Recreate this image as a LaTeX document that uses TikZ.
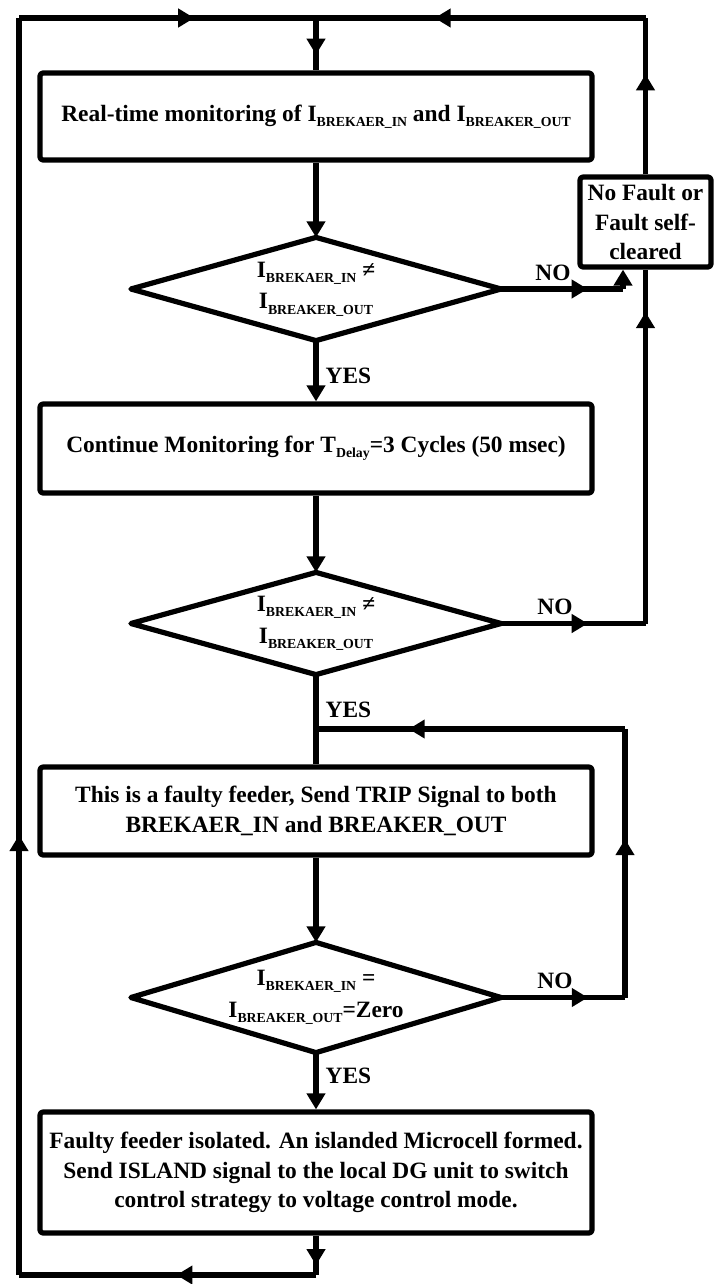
\documentclass[tikz,border=0pt]{standalone}
\usepackage{fontspec}
\setmainfont{Liberation Serif}
\usetikzlibrary{arrows.meta,decorations.markings}
\newcommand\sbs[1]{\raisebox{-0.22em}{\fontsize{6.9}{8}\selectfont #1}}
\begin{document}
\begin{tikzpicture}[x=0.5pt,y=-0.5pt,
  line width=2.6pt, line join=round,
  font=\fontsize{11.7}{14.8}\selectfont\bfseries,
  tipend/.style={-{Triangle[length=8pt,width=9pt]}},
  midarrow/.style={postaction={decorate,decoration={markings,
      mark=at position #1 with {\arrow{Triangle[length=8pt,width=9pt]}}}}},
  box/.style={draw, rounded corners=1.5pt, minimum width=276pt, align=center, inner sep=2pt},
  nfbox/.style={draw, rounded corners=1.5pt, minimum width=65.5pt, minimum height=45pt, align=center, inner sep=1pt},
  dia/.style={minimum width=182.5pt, inner sep=0pt, align=center},
  lab/.style={inner sep=0pt}
]
\useasboundingbox (0,0) rectangle (715,1284);

% boxes
\node[box, minimum height=43.5pt] (b1) at (316,116.5)
  {Real-time monitoring of I\sbs{BREKAER\_IN} and I\sbs{BREAKER\_OUT}};
\node[box, minimum height=44.5pt] (b2) at (316,448.5)
  {Continue Monitoring for T\sbs{Delay}=3 Cycles (50 msec)};
\node[box, minimum height=44pt] (b3) at (316,811)
  {This is a faulty feeder, Send TRIP Signal to both\\BREKAER\_IN and BREAKER\_OUT};
\node[box, minimum height=60.5pt] (b4) at (316,1172.5)
  {Faulty feeder isolated. An islanded Microcell formed.\\Send ISLAND signal to the local DG unit to switch\\control strategy to voltage control mode.};
\node[nfbox] (nf) at (645.5,222)
  {No Fault or\\Fault self-\\cleared};

% decisions
\node[dia, minimum height=49pt] (d1) at (316,289)
  {I\sbs{BREKAER\_IN} ≠\\[1pt]I\sbs{BREAKER\_OUT}};
\node[dia, minimum height=48.5pt] (d2) at (316,623.5)
  {I\sbs{BREKAER\_IN} ≠\\[1pt]I\sbs{BREAKER\_OUT}};
\node[dia, minimum height=52.5pt] (d3) at (316,997.5)
  {I\sbs{BREKAER\_IN} =\\[1pt]I\sbs{BREAKER\_OUT}=Zero};
\foreach \d in {d1,d2,d3}
  \draw (\d.north) -- (\d.east) -- (\d.south) -- (\d.west) -- cycle;

% coordinates
\coordinate (TL) at (19,18);
\coordinate (TM) at (316,18);
\coordinate (TR) at (nf.north |- TL);
\coordinate (BL) at (19,1275);
\coordinate (BM) at (b4.south |- BL);
\coordinate (N1) at (623,289);
\coordinate (N2) at (nf.south |- d2.east);
\coordinate (N3) at (625,997.5);
\coordinate (L3) at (625,729);
\coordinate (J3) at (316,729);

% main flow
\draw[midarrow=0.7] (TM) -- (b1.north);
\draw[tipend] (b1.south) -- (d1.north);
\draw[tipend] (d1.south) -- (b2.north);
\draw[tipend] (b2.south) -- (d2.north);
\draw (d2.south) -- (b3.north);
\draw[tipend] (b3.south) -- (d3.north);
\draw[tipend] (d3.south) -- (b4.north);

% return loop
\draw[midarrow=0.75] (b4.south) -- (BM);
\draw[midarrow=0.47] (BM) -- (BL);
\draw[midarrow=0.35] (BL) -- (TL);
\draw[midarrow=0.59] (TL) -- (TM);

% no-fault path
\draw[midarrow=0.71] (d1.east) -- (N1);
\draw[tipend] (N1) -- (N1 |- nf.south);
\draw[midarrow=0.6] (d2.east) -- (N2);
\draw[midarrow=0.88] (N2) -- (nf.south);
\draw[midarrow=0.64] (nf.north) -- (TR);
\draw[midarrow=0.64] (TR) -- (TM);

% retry loop
\draw[midarrow=0.7] (d3.east) -- (N3);
\draw[midarrow=0.59] (N3) -- (L3);
\draw[midarrow=0.7] (L3) -- (J3);

% labels
\node[lab] (no1) at (553,273) {NO};
\node[lab] (no2) at (555,607) {NO};
\node[lab] (no3) at (555,981) {NO};
\node[lab, anchor=west] (yes1) at (323,376) {YES};
\node[lab, anchor=west] (yes2) at (323,710) {YES};
\node[lab, anchor=west] (yes3) at (323,1076) {YES};
\end{tikzpicture}
\end{document}
